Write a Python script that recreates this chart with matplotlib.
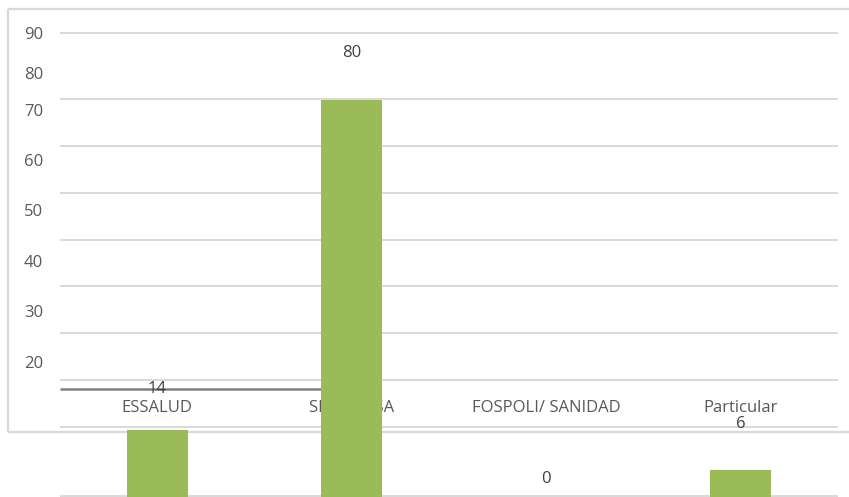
import matplotlib
matplotlib.use("Agg")
import matplotlib.pyplot as plt
import matplotlib.transforms as mtransforms

# ---- data ----
categories = ["ESSALUD", "SIS/ MINSA", "FOSPOLI/ SANIDAD", "Particular"]
values = [14, 80, 0, 6]
ytick_labels = ["90", "80", "70", "60", "50", "40", "30", "20"]

# ---- layout (pixel positions of the reference, y measured from top) ----
W, H = 849, 497
ytick_label_px = [35, 75, 112, 162, 212, 263, 313, 364]
grid_px = [33, 99, 146, 193, 240, 286, 333, 380, 427, 496]
label_offset_px = [41, 47, 21, 46]
plot_left, plot_right = 60, 838

GRID = "#d9d9d9"
TXT = "#595959"
BAR = "#9bbb59"
FS = 12

plt.rcParams["font.family"] = ["Open Sans", "DejaVu Sans"]

fig = plt.figure(figsize=(W / 100, H / 100), dpi=100)

# background axes in pixel coordinates
ax_bg = fig.add_axes([0, 0, 1, 1])
ax_bg.set_xlim(0, W)
ax_bg.set_ylim(H, 0)
ax_bg.axis("off")

# outer frame (open on the right, as in the reference)
ax_bg.hlines([9, 432], 8, W + 30, colors=GRID, lw=1.6, zorder=1, clip_on=False)
ax_bg.vlines([8], 9, 432, colors=GRID, lw=1.6, zorder=1)
# gridlines
ax_bg.hlines(grid_px, plot_left, plot_right, colors=GRID, lw=1.4, zorder=1)
# dark axis line fragment
ax_bg.hlines([389], plot_left, 345, colors="#808080", lw=1.8, zorder=2)
# y tick labels
for lab, y in zip(ytick_labels, ytick_label_px):
    ax_bg.text(43, y, lab, ha="right", va="center", fontsize=FS, color=TXT)

# bar axes
ax = fig.add_axes([plot_left / W, 0, (plot_right - plot_left) / W, 1])
ax.patch.set_alpha(0)
ax.set_xlim(-0.5, 3.5)
ax.set_ylim(0.6, 100)  # 5 px per unit, zero just below figure bottom
ax.axis("off")

x = list(range(len(categories)))
ax.bar(x, values, width=0.314, color=BAR, zorder=3, clip_on=False)

# category labels (under the bars)
tr = mtransforms.blended_transform_factory(ax.transData, ax_bg.transData)
for xi, c in zip(x, categories):
    ax.text(xi, 408, c, transform=tr, ha="center", va="center",
            fontsize=FS, color=TXT, zorder=1)

# value labels
for xi, v, off in zip(x, values, label_offset_px):
    ax.annotate(str(v), xy=(xi, v), xytext=(0, off * 0.72),
                textcoords="offset points", ha="center", va="center",
                fontsize=FS, color="#404040", zorder=4, annotation_clip=False)

fig.savefig("out.png", dpi=100)
